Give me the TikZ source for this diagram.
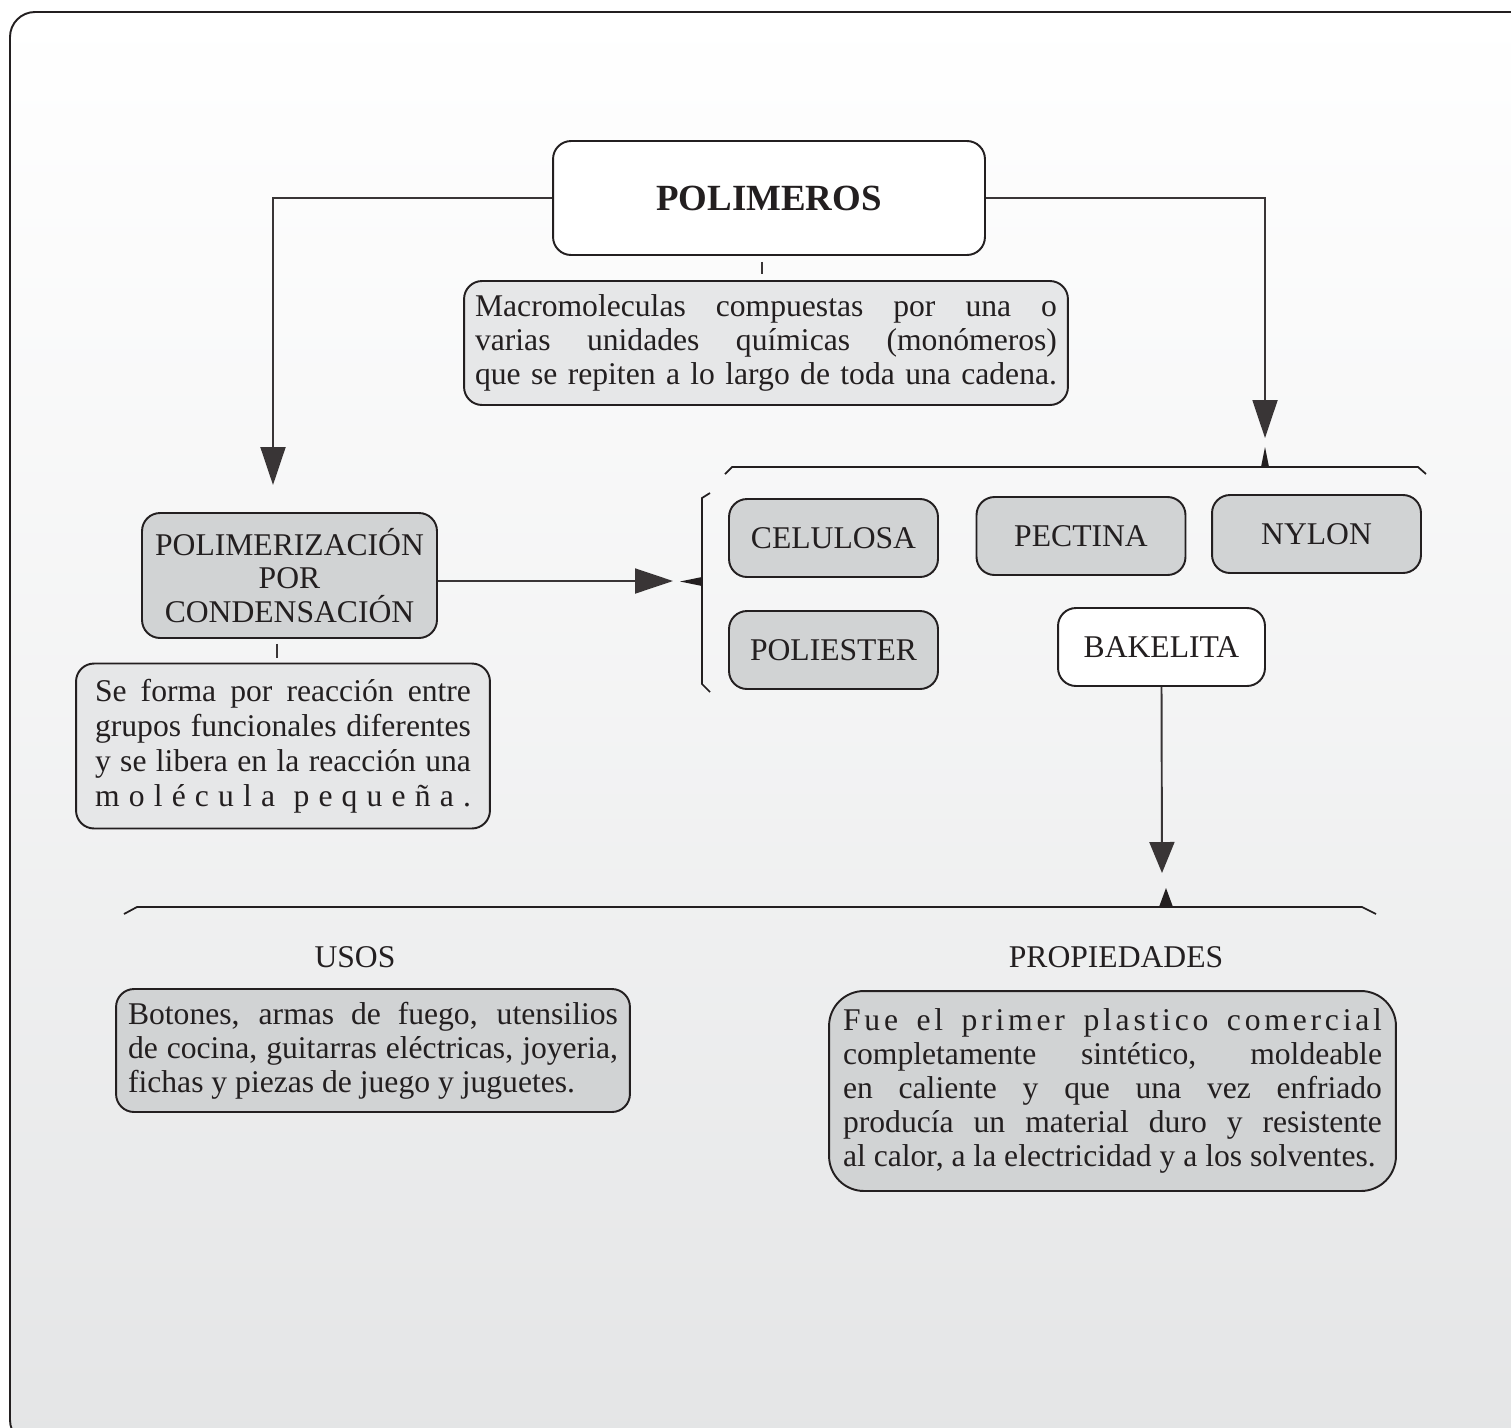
\documentclass[tikz,border=0pt]{standalone}
\usepackage{fontspec}
\setmainfont{Liberation Serif}
\usepackage{xcolor}
\usetikzlibrary{arrows.meta,positioning,calc}
\definecolor{boxgray}{HTML}{D1D3D4}
\definecolor{palegray}{HTML}{E6E7E8}
\definecolor{inkline}{HTML}{231F20}
\definecolor{bgbottom}{HTML}{E4E5E6}
\newcommand{\jline}[1]{\hbox to \hsize{\spaceskip=0pt\xspaceskip=0pt #1}}
\newcommand{\nline}[1]{\hbox{\spaceskip=0pt\xspaceskip=0pt #1}}

\begin{document}
\begin{tikzpicture}[x=0.02cm, y=-0.02cm,
    every node/.style={font=\fontsize{18}{19.3}\selectfont, text=inkline},
    roundbox/.style={draw=inkline, line width=1.1pt, rounded corners=0.36cm, inner sep=0pt, align=center},
    namebox/.style={roundbox, fill=boxgray, minimum width=4.18cm, minimum height=1.56cm},
    conn/.style={draw=inkline!90, line width=1.1pt},
    bigarrow/.style={-{Triangle[length=0.76cm,width=0.5cm]}},
    brace/.style={draw=inkline, line width=1pt}]

    % marco
    \begin{scope}
        \clip (0,0) rectangle (1511,1427);
        \shade[top color=white, bottom color=bgbottom, middle color=white!55!bgbottom, rounded corners=0.5cm] (10,12) rectangle (1545,1445);
        \draw[inkline, line width=1.1pt, rounded corners=0.5cm] (10,12) rectangle (1545,1445);
    \end{scope}
    \useasboundingbox (0,0) rectangle (1511,1427);

    % titulo
    \node[roundbox, fill=white, minimum width=8.64cm, minimum height=2.28cm,
          font=\bfseries\fontsize{21}{24}\selectfont] (polimeros) at (769,198) {POLIMEROS};
    \node[roundbox, fill=palegray, minimum width=12.08cm, minimum height=2.48cm,
          text width=11.64cm, align=left] (macro) at (766,343)
        {\jline{Macromoleculas compuestas por una o}
         \jline{varias unidades químicas (monómeros)}
         \jline{que se repiten a lo largo de toda una cadena.}};

    % polimerizacion
    \node[roundbox, fill=boxgray, minimum width=5.9cm, minimum height=2.5cm] (polim) at (289.5,575.5)
        {POLIMERIZACIÓN\\POR\\CONDENSACIÓN};
    \node[roundbox, fill=palegray, minimum width=8.28cm, minimum height=3.3cm,
          text width=7.52cm, align=left, font=\fontsize{18}{20}\selectfont] (seforma) at (283,746)
        {\jline{Se forma por reacción entre}
         \jline{grupos funcionales diferentes}
         \jline{y se libera en la reacción una}
         \jline{m o l é c u l a \ p e q u e ñ a .}};

    % ejemplos
    \node[namebox] (celulosa) at (833.5,538) {CELULOSA};
    \node[namebox] (pectina) at (1081,536) {PECTINA};
    \node[namebox] (nylon) at (1316.5,534) {NYLON};
    \node[namebox] (poliester) at (833.5,650) {POLIESTER};
    \node[namebox, fill=white, minimum width=4.14cm] (bakelita) at (1161.5,647) {BAKELITA};

    % usos y propiedades
    \node (usos) at (355,957) {USOS};
    \node (propiedades) at (1116,957) {PROPIEDADES};
    \node[roundbox, fill=boxgray, minimum width=10.28cm, minimum height=2.46cm,
          text width=9.8cm, align=left] (botones) at (373,1050.5)
        {\jline{Botones, armas de fuego, utensilios}
         \jline{de cocina, guitarras eléctricas, joyeria,}
         \nline{fichas y piezas de juego y juguetes.}};
    \node[roundbox, rounded corners=0.7cm, fill=boxgray, minimum width=11.34cm, minimum height=4cm,
          text width=10.78cm, align=left] (fue) at (1112.5,1091)
        {\jline{\addfontfeatures{LetterSpace=12}Fue el primer plastico comercial}
         \jline{completamente sintético, moldeable}
         \jline{en caliente y que una vez enfriado}
         \jline{producía un material duro y resistente}
         \nline{al calor, a la electricidad y a los solventes.}};

    % flechas
    \coordinate (tipL) at (273,485);
    \coordinate (tipR) at (1265,438);
    \coordinate (tipH) at (673,581);
    \coordinate (tipB) at (1162,873);
    \draw[conn, bigarrow] (polimeros.west) -| (tipL);
    \draw[conn, bigarrow] (polimeros.east) -| (tipR);
    \draw[conn, bigarrow] (polim.east |- tipH) -- (tipH);
    \draw[conn, -{Triangle[length=0.62cm,width=0.5cm]}] (bakelita.south) -- (tipB);
    \draw[conn, shorten <=0.12cm, shorten >=0.12cm] ([xshift=-0.14cm]polimeros.south) -- ([xshift=-0.14cm]polimeros.south |- macro.north);
    \draw[conn, shorten <=0.1cm, shorten >=0.1cm] ([xshift=-0.25cm]polim.south) -- ([xshift=-0.25cm]polim.south |- seforma.north);

    % llaves
    \draw[brace] (725,474) -- (732,467) -- (1418,467) -- (1426,474);
    \fill[inkline] (1261,467) -- (1265,447) -- (1269,467) -- cycle;
    \draw[brace] (710,493) -- (702,498) -- (702,684) -- (710,692);
    \fill[inkline] (702,577) -- (680,581.5) -- (702,586) -- cycle;
    \draw[brace] (124,914) -- (137,907) -- (1362,907) -- (1376,914);
    \fill[inkline] (1159,907) -- (1166,888) -- (1173,907) -- cycle;
\end{tikzpicture}
\end{document}
